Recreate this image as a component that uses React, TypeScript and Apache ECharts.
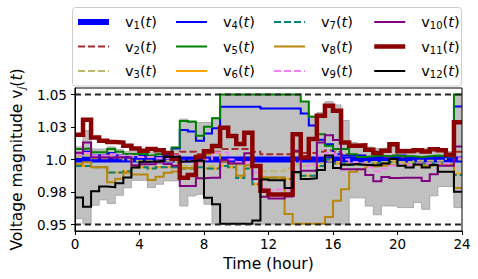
import React, { useEffect, useRef } from "react";
import * as echarts from "echarts";

// ---------- data ----------
const hourTicks = [0, 4, 8, 12, 16, 20, 24];
const yTickValues = [0.95, 0.975, 1.0, 1.025, 1.05];
const yTickLabels = ["0.95", "0.98", "1.0", "1.03", "1.05"];
const voltageLimits = [0.95, 1.05];

// half-hourly values, t = 0, 0.5, ..., 23.5 (held until next step)
const v1 = [
  1.0, 1.0, 1.0, 1.0, 1.0, 1.0, 1.0, 1.0, 1.0, 1.0, 1.0, 1.0,
  1.0, 1.0, 1.0, 1.0, 1.0, 1.0, 1.0, 1.0, 1.0, 1.0, 1.0, 1.0,
  1.0, 1.0, 1.0, 1.0, 1.0, 1.0, 1.0, 1.0, 1.0, 1.0, 1.0, 1.0,
  1.0, 1.0, 1.0, 1.0, 1.0, 1.0, 1.0, 1.0, 1.0, 1.0, 1.0, 1.0,
];
const v2 = [
  1.004, 1.006, 1.003, 1.003, 1.004, 1.003, 1.002, 1.002, 1.002, 1.002, 1.002, 1.002,
  1.004, 1.006, 1.006, 1.004, 1.005, 1.006, 1.008, 1.008, 1.008, 1.008, 1.006,
  1.004, 1.004, 1.004, 1.004, 1.006, 1.005, 1.005, 1.006, 1.007, 1.006, 1.004, 1.003, 1.003,
  1.002, 1.002, 1.002, 1.003, 1.002, 1.002, 1.002, 1.002, 1.002, 1.002, 1.002,
  1.006,
];
const v3 = [
  1.002, 1.003, 1.001, 1.001, 1.002, 1.001, 1.0, 0.999, 0.999, 0.999, 0.999, 0.999,
  0.998, 0.995, 0.995, 0.996, 0.995, 0.995, 0.996, 0.996, 0.996, 0.996, 0.995,
  0.991, 0.991, 0.991, 0.993, 0.996, 0.995, 0.996, 0.997, 0.999, 0.998, 0.996, 0.996, 0.997,
  0.998, 0.998, 0.998, 0.999, 0.998, 0.998, 0.999, 0.999, 0.999, 0.999, 1.003,
  1.0,
];
const v4 = [
  1.0045, 1.006, 1.003, 1.003, 1.005, 1.003, 1.002, 1.002, 1.003, 1.002, 1.002, 1.003,
  1.0085, 1.0226, 1.0215, 1.0144, 1.02, 1.0241,
  1.0405, 1.0405, 1.0405, 1.0405, 1.0405,
  1.0392, 1.0392, 1.0392, 1.0392, 1.0392,
  1.0354, 1.0262, 1.0152, 1.0118, 1.004, 1.003, 1.003, 1.003,
  1.002, 1.002, 1.0025, 1.002, 1.003, 1.002, 1.002, 1.0015, 1.002, 1.002, 1.0015,
  1.0408,
];
const v5 = [
  1.008, 1.0085, 1.0055, 1.0055, 1.008, 1.006, 1.0042, 1.0042, 1.0042, 1.003, 1.004, 1.0055,
  1.0092, 1.0297, 1.029, 1.0182, 1.0251, 1.0318,
  1.05, 1.05, 1.05, 1.05, 1.05, 1.05, 1.05, 1.05, 1.05, 1.05,
  1.0446, 1.0328, 1.0195, 1.0105, 1.008, 1.008, 1.0041, 1.002,
  1.0025, 1.003, 1.0025, 1.003, 1.0025, 1.0025, 1.002, 1.0025, 1.003, 1.0025, 1.002,
  1.05,
];
const v6 = [
  0.996, 0.995, 0.994, 0.994, 0.99, 0.99, 0.991, 0.994, 0.994, 0.993, 0.994, 0.994,
  0.994, 0.993, 0.993, 0.994, 0.993, 0.993, 0.995, 0.994, 0.9857, 0.993, 0.981,
  0.986, 0.986, 0.986, 0.985, 0.99, 0.9875, 0.9875, 0.995, 1.0, 0.997, 0.997, 0.996, 0.996,
  0.996, 0.997, 0.997, 0.998, 0.996, 0.996, 0.997, 0.997, 0.997, 0.997, 0.996,
  0.989,
];
const v7 = [
  0.995, 0.995, 0.994, 0.994, 0.99, 0.99, 0.991, 0.994, 0.994, 0.993, 0.994, 0.994,
  0.994, 0.993, 0.993, 0.994, 0.993, 0.993, 0.995, 0.994, 0.9857, 0.993, 0.981,
  0.986, 0.986, 0.986, 0.985, 0.99, 0.9875, 0.9875, 0.995, 1.0, 0.997, 0.997, 0.996, 0.996,
  0.996, 0.997, 0.997, 0.998, 0.996, 0.996, 0.997, 0.997, 0.997, 0.997, 0.996,
  0.988,
];
const v8 = [
  0.9963, 0.9978, 0.994, 0.994, 0.9825, 0.9852, 0.9898, 0.9885, 0.9885, 0.9842, 0.9867, 0.9898,
  0.9908, 0.9935, 0.9935, 0.9985, 1.0038, 1.0052,
  0.9985, 0.997, 0.9875, 0.9955, 0.9942,
  0.9862, 0.9862, 0.9862, 0.958, 0.9505, 0.9505, 0.9505, 0.9505,
  0.9558, 0.9683, 0.9772, 0.9905, 0.9925,
  0.9945, 0.995, 0.9955, 0.9955, 0.996, 0.9955, 0.996, 0.995, 0.9955, 0.996, 0.996,
  0.978,
];
const v9 = [
  1.004, 1.005, 1.003, 1.003, 1.004, 1.003, 1.003, 1.002, 1.002, 1.002, 1.001, 1.001,
  1.003, 0.999, 0.999, 0.997, 1.0, 1.0054, 1.0054, 1.0, 0.998, 0.998, 0.99,
  0.978, 0.9764, 0.977, 0.977, 0.998, 0.995, 0.996, 1.003, 1.005, 1.004, 1.0, 0.998, 0.997,
  0.994, 0.991, 0.993, 0.995, 0.996, 0.996, 0.997, 0.997, 0.996, 0.997, 0.997,
  1.001,
];
const v10 = [
  1.0052, 1.0131, 1.0016, 1.0016, 1.0016, 1.0016, 1.0016, 0.9955, 0.9964, 0.9964, 0.9977, 0.9965,
  0.9951, 0.9797, 0.9797, 0.9855, 0.986, 0.986,
  0.9995, 0.997, 0.997, 1.0048, 0.985,
  0.9713, 0.97, 0.97, 0.9715,
  1.0067, 0.9913, 0.9913, 1.0131, 1.0187, 1.015, 0.9925,
  0.9925, 0.9925, 0.988, 0.9832, 0.9865, 0.9858, 0.986, 0.986, 0.986, 0.9835, 0.9886, 0.9952, 0.9952,
  1.01,
];
const v11 = [
  1.019, 1.0305, 1.017, 1.0145, 1.0135, 1.013, 1.0105, 1.0085, 1.0067, 1.008, 1.0072, 1.005,
  1.0005, 0.986, 0.988, 1.002, 1.0064, 1.0103,
  1.0244, 1.018, 1.012, 1.0205, 0.995,
  0.976, 0.973, 0.973, 0.973,
  1.0195, 1.0016, 1.0157, 1.0336, 1.0413, 1.0375, 1.013, 1.0105, 1.0108,
  1.0075, 1.005, 1.0068, 1.0117, 1.0063, 1.0065, 1.0072, 1.0062, 1.0078, 1.0072, 1.0037,
  1.0286,
];
const v12 = [
  0.9708, 0.9636, 0.9755, 0.9792, 0.9787, 0.9818, 0.9862, 0.9938, 0.9983, 0.9985, 0.999, 1.002,
  1.0025, 0.9985, 0.999, 0.999, 0.9705, 0.9655,
  0.9505, 0.9505, 0.9505, 0.9505, 0.953,
  0.9846, 0.984, 0.984, 0.978, 0.9903, 0.985, 0.9855, 0.992, 1.003, 0.9935, 0.996, 0.9965, 0.996,
  0.9956, 0.9956, 0.997, 1.0003, 0.9952, 0.9938, 0.9962, 0.9938, 0.9958, 0.9905, 0.9905,
  0.9751,
];
const envUpper = [
  1.0097, 1.0222, 1.008, 1.008, 1.0097, 1.0075, 1.006, 1.006, 1.0055, 1.005, 1.005, 1.006,
  1.0095, 1.031, 1.0297, 1.0285, 1.0285, 1.0323,
  1.05, 1.05, 1.05, 1.05, 1.05, 1.05, 1.05, 1.05, 1.05, 1.05,
  1.0446, 1.0335, 1.036, 1.0445, 1.042, 1.03, 1.013, 1.012,
  1.0095, 1.0085, 1.009, 1.0105, 1.008, 1.008, 1.0085, 1.008, 1.0085, 1.0085, 1.006,
  1.05,
];
const envLower = [
  0.9545, 0.9503, 0.9648, 0.969, 0.9662, 0.9725, 0.9783, 0.984, 0.984, 0.9785, 0.981, 0.9836,
  0.9836, 0.9643, 0.972, 0.9733, 0.9656, 0.9503,
  0.9503, 0.9503, 0.9503, 0.9503, 0.9503, 0.9503, 0.9503, 0.9503,
  0.9503, 0.9503, 0.9503, 0.9503, 0.9503, 0.9503, 0.9503, 0.9503,
  0.9705, 0.9705, 0.9642, 0.9575, 0.9643, 0.9643, 0.963, 0.963, 0.9669, 0.9617, 0.9721, 0.9792, 0.9792,
  0.963,
];

const seriesNames = ["v1", "v2", "v3", "v4", "v5", "v6", "v7", "v8", "v9", "v10", "v11", "v12"];
const seriesValues = [v1, v2, v3, v4, v5, v6, v7, v8, v9, v10, v11, v12];
const legendColumns = [
  ["v1", "v2", "v3"],
  ["v4", "v5", "v6"],
  ["v7", "v8", "v9"],
  ["v10", "v11", "v12"],
];

// ---------- styles ----------
const FONT = "DejaVu Sans";
const DASH = [7, 3];
const seriesStyles: { color: string; width: number; dash?: number[] }[] = [
  { color: "#0000ff", width: 6 },
  { color: "#a52a2a", width: 2, dash: DASH },
  { color: "#bdb76b", width: 2, dash: DASH },
  { color: "#0000ff", width: 2 },
  { color: "#008000", width: 2 },
  { color: "#ffa500", width: 2 },
  { color: "#008080", width: 2, dash: DASH },
  { color: "#b8860b", width: 2 },
  { color: "#ee82ee", width: 2, dash: DASH },
  { color: "#800080", width: 2 },
  { color: "#8b0000", width: 4.5 },
  { color: "#000000", width: 2 },
];
const legendLefts = [75, 175, 273, 372];

const N = 48;
const hours = Array.from({ length: N + 1 }, (_, i) => i * 0.5);
const stepData = (vals: number[]) =>
  hours.map((h, i) => [h, vals[Math.min(i, vals.length - 1)]]);

export default function App() {
  const ref = useRef<HTMLDivElement>(null);

  useEffect(() => {
    if (!ref.current) return;
    const chart = echarts.init(ref.current, undefined, { renderer: "svg" });

    const series: any[] = [
      {
        name: "envUpper",
        type: "line",
        step: "end",
        symbol: "none",
        silent: true,
        z: 1,
        data: stepData(envUpper),
        lineStyle: { color: "#a8a8a8", width: 1 },
        areaStyle: { color: "#c0c0c0", opacity: 1, origin: "start" },
      },
      {
        name: "envLower",
        type: "line",
        step: "end",
        symbol: "none",
        silent: true,
        z: 1,
        data: stepData(envLower),
        lineStyle: { color: "#a8a8a8", width: 1 },
        areaStyle: { color: "#ffffff", opacity: 1, origin: "start" },
      },
    ];

    seriesNames.forEach((name, k) => {
      const st = seriesStyles[k];
      series.push({
        name,
        type: "line",
        step: "end",
        symbol: "none",
        z: 2,
        data: stepData(seriesValues[k]),
        lineStyle: {
          color: st.color,
          width: st.width,
          type: st.dash ? st.dash : "solid",
          cap: "butt",
          join: "miter",
        },
        itemStyle: { color: st.color },
      });
    });

    voltageLimits.forEach((lim) => {
      series.push({
        type: "line",
        symbol: "none",
        silent: true,
        z: 3,
        data: [
          [hourTicks[0], lim],
          [hourTicks[hourTicks.length - 1], lim],
        ],
        lineStyle: { color: "#222", width: 1.8, type: [6, 4] },
      });
    });

    const rich = {
      g: { width: 11 },
      s: { fontSize: 10, lineHeight: 8, verticalAlign: "bottom", fontFamily: FONT, color: "#000" },
      sj: {
        fontSize: 10.5,
        lineHeight: 8,
        verticalAlign: "bottom",
        fontStyle: "italic",
        fontFamily: FONT,
        color: "#000",
      },
      i: { fontStyle: "italic", fontFamily: FONT, color: "#000" },
    };

    const option: any = {
      animation: false,
      backgroundColor: "#fff",
      textStyle: { fontFamily: FONT },
      grid: {
        left: 72,
        right: 16,
        top: 88,
        bottom: 48,
        show: true,
        z: 6,
        borderColor: "#000",
        borderWidth: 1,
        backgroundColor: "transparent",
      },
      graphic: [
        {
          type: "rect",
          z: 0,
          shape: { x: 72.5, y: 7.5, width: 389, height: 78.5, r: 3 },
          style: { fill: "rgba(255,255,255,0.8)", stroke: "#cccccc", lineWidth: 1 },
          silent: true,
        },
      ],
      legend: legendColumns.map((names, c) => ({
        orient: "vertical",
        left: legendLefts[c],
        top: 13.5,
        padding: 0,
        itemWidth: 31,
        itemHeight: 10,
        itemGap: 7.5,
        selectedMode: false,
        data: names.map((name) => {
          const st = seriesStyles[seriesNames.indexOf(name)];
          return {
            name,
            lineStyle: {
              width: st.width,
              color: st.color,
              type: st.dash ? st.dash : "solid",
              cap: "butt",
            },
          };
        }),
        itemStyle: { opacity: 0 },
        formatter: (name: string) => `{g| }v{s|${name.slice(1)}}({i|t})`,
        textStyle: {
          fontSize: 14.5,
          lineHeight: 17,
          color: "#000",
          fontFamily: FONT,
          rich,
        },
      })),
      xAxis: {
        type: "value",
        z: 6,
        min: hourTicks[0],
        max: hourTicks[hourTicks.length - 1],
        interval: 4,
        splitLine: { show: false },
        axisLine: { show: true, onZero: false, lineStyle: { color: "#000", width: 1 } },
        axisTick: { show: true, inside: false, length: 4, lineStyle: { color: "#000" } },
        axisLabel: { color: "#000", fontSize: 13.5, fontFamily: FONT, margin: 6 },
        name: "Time (hour)",
        nameLocation: "middle",
        nameGap: 25,
        nameTextStyle: { fontSize: 15.5, color: "#000", fontFamily: FONT },
      },
      yAxis: {
        type: "value",
        z: 6,
        min: 0.945,
        max: 1.055,
        splitLine: { show: false },
        axisLine: { show: true, onZero: false, lineStyle: { color: "#000", width: 1 } },
        axisTick: {
          show: true,
          inside: false,
          length: 4,
          customValues: yTickValues,
          lineStyle: { color: "#000" },
        },
        axisLabel: {
          color: "#000",
          fontSize: 13.5,
          fontFamily: FONT,
          margin: 8,
          customValues: yTickValues,
          formatter: (val: number) => {
            const k = yTickValues.findIndex((t) => Math.abs(t - val) < 1e-6);
            return k >= 0 ? yTickLabels[k] : "";
          },
        },
        name: "Voltage magnitude v{sj|j}({i|t})",
        nameLocation: "middle",
        nameRotate: 90,
        nameGap: 47,
        nameTextStyle: {
          fontSize: 15.5,
          lineHeight: 18,
          color: "#000",
          fontFamily: FONT,
          rich,
        },
      },
      series,
    };

    chart.setOption(option);
    return () => chart.dispose();
  }, []);

  return (
    <div
      ref={ref}
      style={{ position: "fixed", left: 0, top: 0, width: 478, height: 279, background: "#fff" }}
    />
  );
}
